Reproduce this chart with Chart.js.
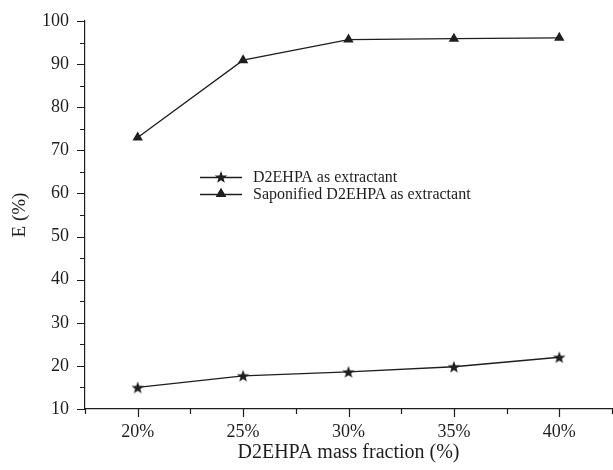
<!DOCTYPE html>
<html>
<head>
<meta charset="utf-8">
<script src="https://cdn.jsdelivr.net/npm/chart.js@4/dist/chart.umd.min.js"></script>
<style>
  html, body { margin: 0; padding: 0; background: #fff; }
  #wrap { width: 613px; height: 470px; }
</style>
</head>
<body>
<div id="wrap"><canvas id="c" width="613" height="470"></canvas></div>
<script>
// ---- data ----
const massFraction = [20, 25, 30, 35, 40];              // x categories (%)
const d2ehpa = [15.0, 17.7, 18.6, 19.8, 22.0];          // D2EHPA as extractant
const saponified = [73.0, 90.9, 95.7, 95.9, 96.1];      // Saponified D2EHPA as extractant
const seriesLabels = ['D2EHPA as extractant', 'Saponified D2EHPA as extractant'];
const xTickValues = [17.5, 20, 22.5, 25, 27.5, 30, 32.5, 35, 37.5, 40, 42.5];
const yTickValues = [10, 15, 20, 25, 30, 35, 40, 45, 50, 55, 60, 65, 70, 75, 80, 85, 90, 95, 100];
const xTitle = 'D2EHPA mass fraction (%)';
const yTitle = 'E (%)';

const INK = '#1e1e1e';
const SERIF = "'Liberation Serif', 'Times New Roman', serif";

function makeStar(size) {
  const c = document.createElement('canvas');
  c.width = size; c.height = size;
  const g = c.getContext('2d');
  const cx = size / 2, cy = size / 2 + 0.6, R = size / 2 - 0.5, r = R * 0.42;
  g.beginPath();
  for (let i = 0; i < 10; i++) {
    const rad = (i % 2 === 0) ? R : r;
    const a = -Math.PI / 2 + i * Math.PI / 5;
    const px = cx + rad * Math.cos(a), py = cy + rad * Math.sin(a);
    if (i === 0) g.moveTo(px, py); else g.lineTo(px, py);
  }
  g.closePath();
  g.fillStyle = INK;
  g.fill();
  return c;
}
const starImg = makeStar(14);

const toXY = (vals) => massFraction.map((x, i) => ({ x: x, y: vals[i] }));

const tickMarks = {
  id: 'tickMarks',
  afterDraw(chart) {
    const ctx = chart.ctx;
    const xs = chart.scales.x, ys = chart.scales.y;
    ctx.save();
    ctx.strokeStyle = INK;
    ctx.lineWidth = 1.2;
    ctx.beginPath();
    xs.ticks.forEach((t, i) => {
      const px = Math.round(xs.getPixelForTick(i)) + 0.5;
      const major = Math.abs(t.value % 5) < 1e-6;
      ctx.moveTo(px, xs.top);
      ctx.lineTo(px, xs.top + (major ? 8 : 5));
    });
    ys.ticks.forEach((t, i) => {
      const py = Math.round(ys.getPixelForTick(i)) + 0.5;
      const major = Math.abs(t.value % 10) < 1e-6;
      ctx.moveTo(ys.right, py);
      ctx.lineTo(ys.right - (major ? 8 : 5), py);
    });
    ctx.stroke();
    ctx.restore();
  }
};

const customLegend = {
  id: 'customLegend',
  afterDatasetsDraw(chart) {
    const ctx = chart.ctx;
    const rows = [
      { y: 177, ds: 0 },
      { y: 194, ds: 1 }
    ];
    ctx.save();
    rows.forEach(r => {
      const ds = chart.data.datasets[r.ds];
      ctx.strokeStyle = INK;
      ctx.lineWidth = 1.3;
      ctx.beginPath();
      ctx.moveTo(200, r.y + 0.5);
      ctx.lineTo(242, r.y + 0.5);
      ctx.stroke();
      Chart.helpers.drawPoint(ctx, {
        pointStyle: ds.pointStyle, radius: ds.pointRadius, rotation: 0, borderWidth: 0
      }, 221, r.y);
      if (ds.pointStyle === 'triangle') {
        ctx.fillStyle = INK;
        ctx.fill();
      }
      ctx.fillStyle = INK;
      ctx.font = '16px ' + SERIF;
      ctx.textBaseline = 'middle';
      ctx.textAlign = 'left';
      ctx.fillText(ds.label, 253, r.y + 1);
    });
    ctx.restore();
  }
};

new Chart(document.getElementById('c'), {
  type: 'line',
  data: {
    datasets: [
      {
        label: seriesLabels[0],
        data: toXY(d2ehpa),
        borderColor: INK,
        borderWidth: 1.3,
        pointStyle: starImg,
        pointRadius: 7,
        pointBackgroundColor: INK,
        pointBorderColor: INK,
        tension: 0,
        clip: false
      },
      {
        label: seriesLabels[1],
        data: toXY(saponified),
        borderColor: INK,
        borderWidth: 1.3,
        pointStyle: 'triangle',
        pointRadius: 6,
        pointBorderWidth: 0,
        pointBackgroundColor: INK,
        pointBorderColor: INK,
        tension: 0,
        clip: false
      }
    ]
  },
  options: {
    responsive: false,
    animation: false,
    events: [],
    layout: { autoPadding: false, padding: { top: 21, right: 1, left: 0, bottom: 0 } },
    plugins: { legend: { display: false }, tooltip: { enabled: false } },
    scales: {
      x: {
        type: 'linear',
        min: 17.5, max: 42.5,
        afterBuildTicks: (s) => { s.ticks = xTickValues.map(v => ({ value: v })); },
        afterFit: (s) => { s.height = 61; s.paddingLeft = 0; s.paddingRight = 0; },
        grid: { display: true, drawOnChartArea: false, drawTicks: false },
        border: { display: true, color: INK, width: 1.2 },
        ticks: {
          autoSkip: false, maxRotation: 0, padding: 12,
          color: INK,
          font: { family: SERIF, size: 18 },
          callback: (v) => (Math.abs(v % 5) < 1e-6 ? v + '%' : '')
        },
        title: {
          display: true, text: xTitle, color: INK,
          font: { family: SERIF, size: 20 },
          padding: { top: 0, bottom: 5 }
        }
      },
      y: {
        type: 'linear',
        min: 10, max: 100,
        afterBuildTicks: (s) => { s.ticks = yTickValues.map(v => ({ value: v })); },
        afterFit: (s) => { s.width = 85; s.paddingTop = 0; s.paddingBottom = 0; },
        grid: { display: true, drawOnChartArea: false, drawTicks: false },
        border: { display: true, color: INK, width: 1.2 },
        ticks: {
          autoSkip: false, padding: 16,
          color: INK,
          font: { family: SERIF, size: 18 },
          callback: (v) => (Math.abs(v % 10) < 1e-6 ? String(v) : '')
        },
        title: {
          display: true, text: yTitle, color: INK,
          font: { family: SERIF, size: 19 },
          padding: { top: 9, bottom: 0 }
        }
      }
    }
  },
  plugins: [tickMarks, customLegend]
});
</script>
</body>
</html>
